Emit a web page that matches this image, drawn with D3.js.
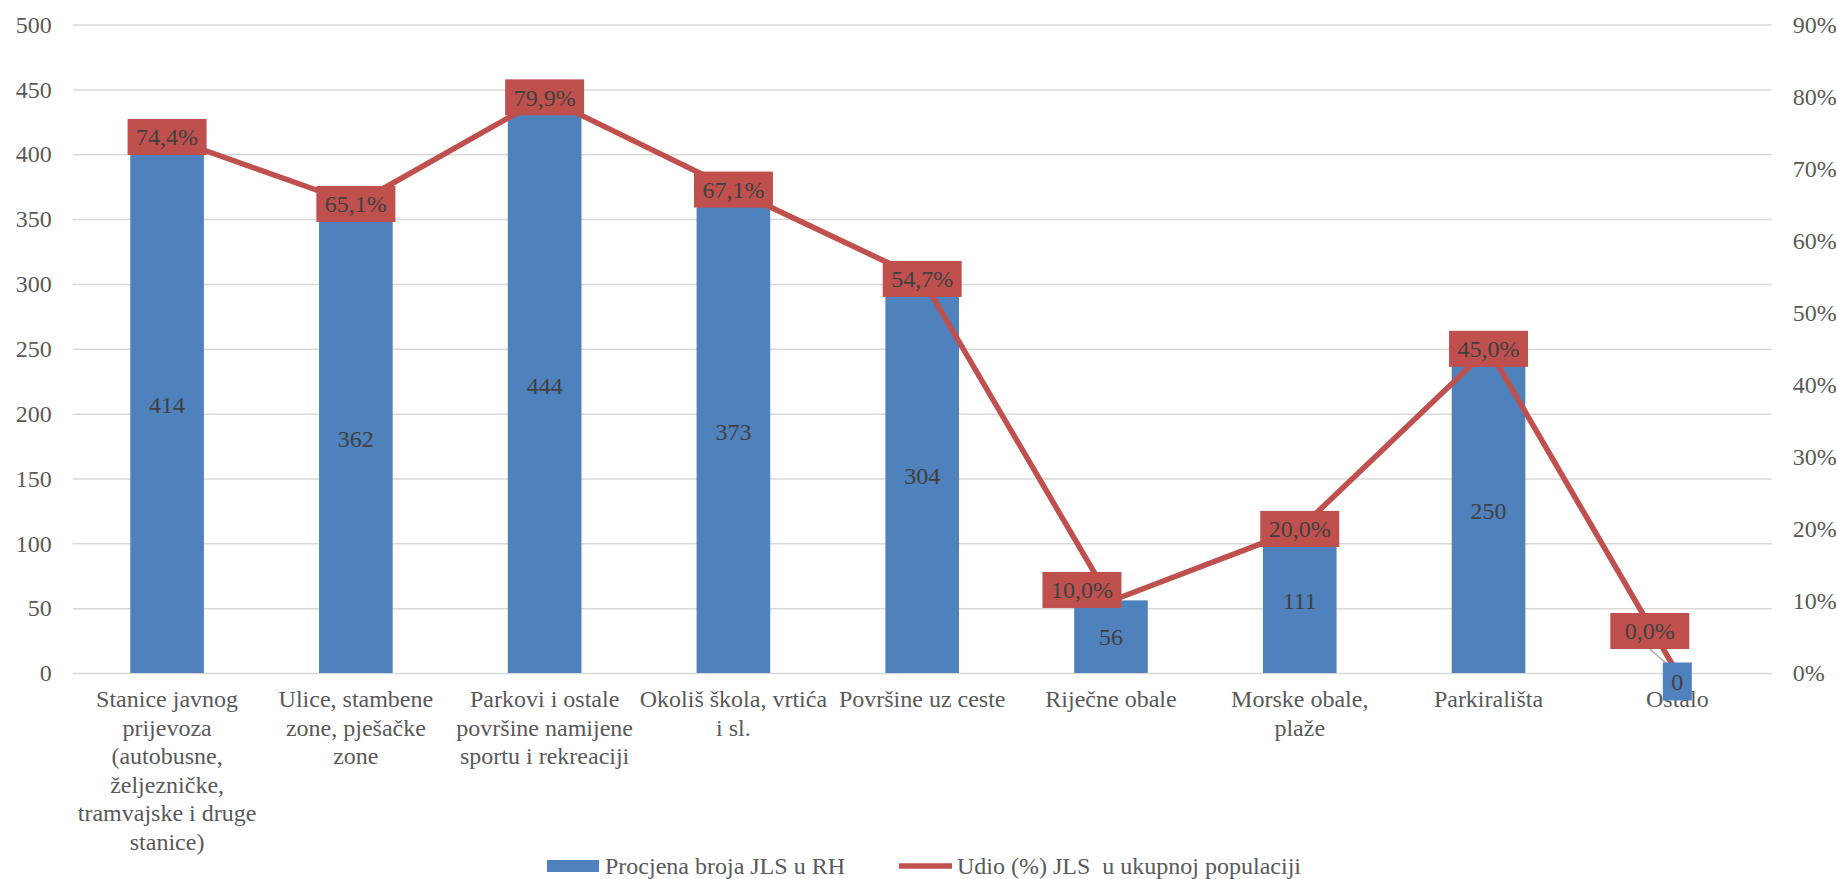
<!DOCTYPE html>
<html>
<head>
<meta charset="utf-8">
<script src="https://cdn.jsdelivr.net/npm/d3@7"></script>
<style>
  body { margin: 0; background: #fff; }
  svg { display: block; font-family: "Liberation Serif", "Times New Roman", serif; }
</style>
</head>
<body>
<div id="chart"></div>
<script>
// --- data ---
const categories = [
  'Stanice javnog\nprijevoza\n(autobusne,\nželjezničke,\ntramvajske i druge\nstanice)',
  'Ulice, stambene\nzone, pješačke\nzone',
  'Parkovi i ostale\npovršine namijene\nsportu i rekreaciji',
  'Okoliš škola, vrtića\ni sl.',
  'Površine uz ceste',
  'Riječne obale',
  'Morske obale,\nplaže',
  'Parkirališta',
  'Ostalo'
]
const counts = [414, 362, 444, 373, 304, 56, 111, 250, 0]
const shares = [0.744, 0.651, 0.799, 0.671, 0.547, 0.100, 0.200, 0.450, 0.000]
const leftTicks = [0, 50, 100, 150, 200, 250, 300, 350, 400, 450, 500]
const rightTicks = [0, 0.1, 0.2, 0.3, 0.4, 0.5, 0.6, 0.7, 0.8, 0.9]
const barName = 'Procjena broja JLS u RH'
const lineName = 'Udio (%) JLS\u00a0 u ukupnoj populaciji'

const width = 1838
const height = 879
const plotLeft = 72.7, plotRight = 1771.7, plotTop = 24.6, plotBottom = 673

const blue = '#4f81bd'
const red = '#c0504d'

const svg = d3.select('#chart').append('svg')
  .attr('width', width)
  .attr('height', height)
  .style('font-size', '24px')

const x = d3.scaleBand()
  .domain(d3.range(categories.length))
  .range([plotLeft, plotRight])
  .paddingInner(0.61)
  .paddingOuter(0.305)

const yL = d3.scaleLinear().domain([0, 500]).range([plotBottom, plotTop])
const yR = d3.scaleLinear().domain([0, 0.9]).range([plotBottom, plotTop])

const pct = d => d3.format('.1f')(d * 100).replace('.', ',') + '%'

// --- grid + left axis ---
const gL = svg.append('g')
  .attr('transform', `translate(${plotLeft},0)`)
  .call(d3.axisLeft(yL).tickValues(leftTicks).tickSize(-(plotRight - plotLeft)).tickPadding(21))
gL.select('.domain').remove()
gL.selectAll('.tick line').attr('stroke', '#d9d9d9').attr('stroke-width', 1.5)
gL.selectAll('.tick text').attr('fill', '#595959').style('font-size', '24px')
  .style('font-family', '"Liberation Serif", serif')

// --- right axis ---
const gR = svg.append('g')
  .attr('transform', `translate(${plotRight},0)`)
  .call(d3.axisRight(yR).tickValues(rightTicks).tickSize(0).tickPadding(21).tickFormat(d3.format('.0%')))
gR.select('.domain').remove()
gR.selectAll('.tick text').attr('fill', '#595959').style('font-size', '24px')
  .style('font-family', '"Liberation Serif", serif')

// --- category labels ---
const gX = svg.append('g')
  .attr('transform', `translate(0,${plotBottom})`)
  .call(d3.axisBottom(x).tickSize(0).tickFormat(''))
gX.select('.domain').remove()
gX.selectAll('.tick').each(function(i) {
  const t = d3.select(this).select('text')
    .attr('y', 34).attr('dy', null)
    .attr('fill', '#595959')
    .style('font-size', '24px')
    .style('font-family', '"Liberation Serif", serif')
  categories[i].split('\n').forEach((s, k) => {
    t.append('tspan').attr('x', 0).attr('y', 34 + k * 28.6).text(s)
  })
})

// --- bars ---
svg.append('g')
  .selectAll('rect')
  .data(counts)
  .join('rect')
    .attr('x', (d, i) => x(i))
    .attr('y', d => yL(d))
    .attr('width', x.bandwidth())
    .attr('height', d => yL(0) - yL(d))
    .attr('fill', blue)

// --- line ---
const line = d3.line()
  .x((d, i) => x(i) + x.bandwidth() / 2)
  .y(d => yR(d))

svg.append('path')
  .datum(shares)
  .attr('d', line)
  .attr('fill', 'none')
  .attr('stroke', red)
  .attr('stroke-width', 5.5)
  .attr('stroke-linejoin', 'round')

// --- percentage labels ---
// a couple of labels were nudged off their point in the original
const labelShift = (i) => {
  if (i === 5) return [-29, -11]
  if (i === shares.length - 1) return [-27.5, -42]
  return [0, 0]
}

const pLabels = svg.append('g')
  .selectAll('g')
  .data(shares)
  .join('g')
    .attr('transform', (d, i) => {
      const s = labelShift(i)
      return `translate(${x(i) + x.bandwidth() / 2 + s[0]},${yR(d) + s[1]})`
    })

// leader line for the last one only
pLabels.filter((d, i) => i === shares.length - 1)
  .append('line')
    .attr('x1', 0).attr('y1', 18)
    .attr('x2', 27.5).attr('y2', 42)
    .attr('stroke', '#a6a6a6')
    .attr('stroke-width', 1.5)

pLabels.append('rect')
  .attr('x', -39.5).attr('y', -18)
  .attr('width', 79).attr('height', 36)
  .attr('fill', red)

pLabels.append('text')
  .attr('text-anchor', 'middle')
  .attr('dy', '0.35em')
  .attr('fill', '#404040')
  .text(d => pct(d))

// --- bar value labels ---
const bLabels = svg.append('g')
  .selectAll('g')
  .data(counts)
  .join('g')
    .attr('transform', (d, i) => {
      const cy = d === 0 ? yL(0) + 8.5 : (yL(0) + yL(d)) / 2
      return `translate(${x(i) + x.bandwidth() / 2},${cy})`
    })

bLabels.filter(d => d === 0)
  .append('rect')
    .attr('x', -14.5).attr('y', -19)
    .attr('width', 29).attr('height', 38)
    .attr('fill', blue)

bLabels.append('text')
  .attr('text-anchor', 'middle')
  .attr('dy', '0.35em')
  .attr('fill', '#404040')
  .text(d => d)

// --- legend ---
const legend = svg.append('g').attr('fill', '#595959')
legend.append('rect')
  .attr('x', 547).attr('y', 860)
  .attr('width', 52).attr('height', 12)
  .attr('fill', blue)
legend.append('text')
  .attr('x', 605).attr('y', 874)
  .text(barName)
legend.append('line')
  .attr('x1', 899).attr('x2', 952)
  .attr('y1', 866).attr('y2', 866)
  .attr('stroke', red)
  .attr('stroke-width', 5.5)
legend.append('text')
  .attr('x', 957).attr('y', 874)
  .text(lineName)
</script>
</body>
</html>
